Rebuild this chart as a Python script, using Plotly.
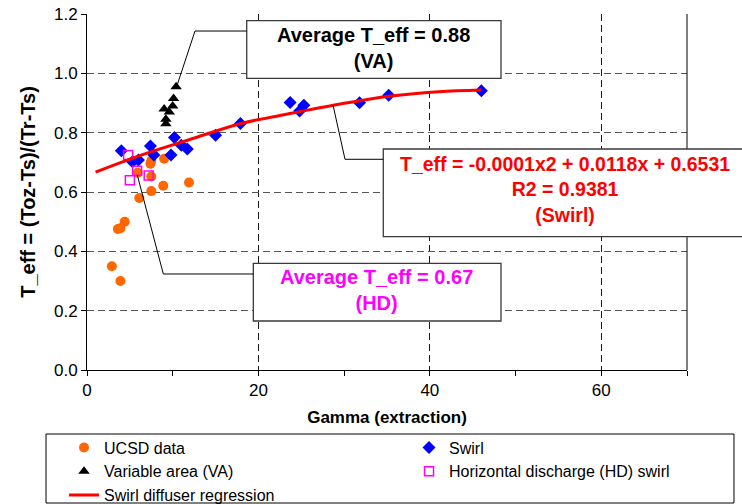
import plotly.graph_objects as go

# ---------------- data ----------------
ucsd_x = [2.9, 3.9, 3.6, 3.9, 4.4, 6.1, 5.9, 7.5, 7.5, 7.4, 7.5, 8.9, 9.0, 11.9]
ucsd_y = [0.35, 0.30, 0.475, 0.478, 0.50, 0.58, 0.665, 0.603, 0.652, 0.695, 0.705, 0.621, 0.712, 0.632]

swirl_x = [4.0, 5.3, 6.0, 7.4, 7.8, 9.8, 10.2, 11.0, 11.7, 15.0, 17.9, 23.7, 24.8, 25.3, 31.8, 35.2, 46.0]
swirl_y = [0.739, 0.702, 0.708, 0.755, 0.725, 0.725, 0.784, 0.758, 0.745, 0.791, 0.831, 0.902, 0.873,
           0.892, 0.901, 0.926, 0.941]

va_x = [10.4, 10.1, 10.0, 9.0, 9.6, 9.2, 9.2]
va_y = [0.955, 0.915, 0.89, 0.88, 0.87, 0.845, 0.83]

hd_x = [4.8, 5.85, 5.0, 7.2]
hd_y = [0.725, 0.672, 0.64, 0.656]

reg_x = [1, 6, 12, 18, 24, 30, 35, 41, 46]
reg_y = [0.667, 0.721, 0.777, 0.831, 0.866, 0.899, 0.922, 0.938, 0.944]

x_tick_vals = [0, 20, 40, 60]
x_tick_text = ["0", "20", "40", "60"]
y_tick_vals = [0.0, 0.2, 0.4, 0.6, 0.8, 1.0, 1.2]
y_tick_text = ["0.0", "0.2", "0.4", "0.6", "0.8", "1.0", "1.2"]

series_names = ["UCSD data", "Swirl", "Variable area (VA)",
                "Horizontal discharge (HD) swirl", "Swirl diffuser regression"]

va_label = "Average T_eff = 0.88<br>(VA)"
hd_label = "Average T_eff = 0.67<br>(HD)"
reg_label = "T_eff = -0.0001x2 + 0.0118x + 0.6531<br>R2 = 0.9381<br>(Swirl)"

FONT = "Liberation Sans, Arial, sans-serif"

fig = go.Figure()
fig.add_trace(go.Scatter(x=ucsd_x, y=ucsd_y, mode="markers", name=series_names[0],
                         marker=dict(symbol="circle", size=10, color="#FF6600")))
fig.add_trace(go.Scatter(x=swirl_x, y=swirl_y, mode="markers", name=series_names[1],
                         marker=dict(symbol="diamond", size=10, color="#0000FF")))
fig.add_trace(go.Scatter(x=va_x, y=va_y, mode="markers", name=series_names[2],
                         marker=dict(symbol="triangle-up", size=10, color="#000000")))
fig.add_trace(go.Scatter(x=hd_x, y=hd_y, mode="markers", name=series_names[3],
                         marker=dict(symbol="square-open", size=9, color="#FF00FF",
                                     line=dict(width=1.5, color="#FF00FF"))))
fig.add_trace(go.Scatter(x=reg_x, y=reg_y, mode="lines", name=series_names[4],
                         line=dict(color="#FF0000", width=3, shape="spline")))

shapes = []
# right frame line
shapes.append(dict(type="line", xref="paper", yref="paper", x0=1, x1=1, y0=0, y1=1,
                   line=dict(color="black", width=1)))
# annotation boxes
box_line = dict(color="#3a3a3a", width=1.3)
shapes.append(dict(type="rect", xref="paper", yref="paper", x0=0.2662, x1=0.69, y0=0.8194, y1=0.9812,
                   fillcolor="white", line=box_line, layer="above"))
shapes.append(dict(type="rect", xref="paper", yref="paper", x0=0.4938, x1=1.13, y0=0.3744, y1=0.6208,
                   fillcolor="white", line=box_line, layer="above"))
shapes.append(dict(type="rect", xref="paper", yref="paper", x0=0.2772, x1=0.69, y0=0.1376, y1=0.2997,
                   fillcolor="white", line=box_line, layer="above"))
# connectors
conn = dict(color="black", width=1)
shapes.append(dict(type="path", xref="paper", yref="paper",
                   path="M 0.2662 0.9522 L 0.18 0.9522 L 0.1492 0.7949", line=conn, layer="above"))
shapes.append(dict(type="path", xref="paper", yref="paper",
                   path="M 0.4938 0.5919 L 0.43 0.5919 L 0.41 0.7444", line=conn, layer="above"))
shapes.append(dict(type="path", xref="paper", yref="paper",
                   path="M 0.2772 0.2697 L 0.1272 0.2697 L 0.0838 0.5478", line=conn, layer="above"))
# legend box
shapes.append(dict(type="rect", xref="paper", yref="paper", x0=-0.0683, x1=1.0783, y0=-0.3736, y1=-0.1798,
                   fillcolor="rgba(0,0,0,0)", line=dict(color="black", width=1)))

annotations = [
    dict(text=va_label, xref="paper", yref="paper", x=0.478, y=0.9045, showarrow=False,
         font=dict(family=FONT, size=20, color="black", weight="bold"), xanchor="center", yanchor="middle"),
    dict(text=reg_label, xref="paper", yref="paper", x=0.797, y=0.5084, showarrow=False,
         font=dict(family=FONT, size=19.5, color="#FF0000", weight="bold"), xanchor="center", yanchor="middle"),
    dict(text=hd_label, xref="paper", yref="paper", x=0.4833, y=0.2247, showarrow=False,
         font=dict(family=FONT, size=20, color="#FF00FF", weight="bold"), xanchor="center", yanchor="middle"),
]

fig.update_layout(
    width=742, height=504,
    margin=dict(l=87, r=55, t=14, b=134, autoexpand=False),
    paper_bgcolor="white", plot_bgcolor="white",
    font=dict(family=FONT, color="black"),
    shapes=shapes, annotations=annotations,
    showlegend=True,
    legend=dict(orientation="h", x=-0.0383, y=-0.17, xanchor="left", yanchor="top",
                entrywidth=300, entrywidthmode="pixels", bgcolor="rgba(0,0,0,0)",
                borderwidth=0, font=dict(family=FONT, size=16, color="black"),
                traceorder="normal"),
    xaxis=dict(range=[0, 70], tickvals=x_tick_vals, ticktext=x_tick_text, automargin=False,
               ticks="outside", ticklen=5, tickcolor="black", tickwidth=1,
               minor=dict(tickvals=[10, 30, 50, 70], ticks="outside", ticklen=5, tickcolor="black",
                          showgrid=False),
               showline=True, linecolor="black", linewidth=1,
               showgrid=True, gridcolor="#1a1a1a", griddash="7px,4px", gridwidth=1,
               zeroline=False, tickfont=dict(size=17),
               title=dict(text="<b>Gamma (extraction)</b>", font=dict(size=17), standoff=11)),
    yaxis=dict(range=[0, 1.2], tickvals=y_tick_vals, ticktext=y_tick_text, automargin=False,
               ticks="outside", ticklen=5, tickcolor="black", tickwidth=1,
               showline=True, linecolor="black", linewidth=1,
               showgrid=True, gridcolor="#555555", griddash="7px,4px", gridwidth=1,
               zeroline=False, tickfont=dict(size=17),
               title=dict(text="<b>T_eff = (Toz-Ts)/(Tr-Ts)</b>", font=dict(size=20), standoff=12)),
)

fig.write_html("out.html", config={"displayModeBar": False},
               post_script="document.body.style.margin='0px';")
